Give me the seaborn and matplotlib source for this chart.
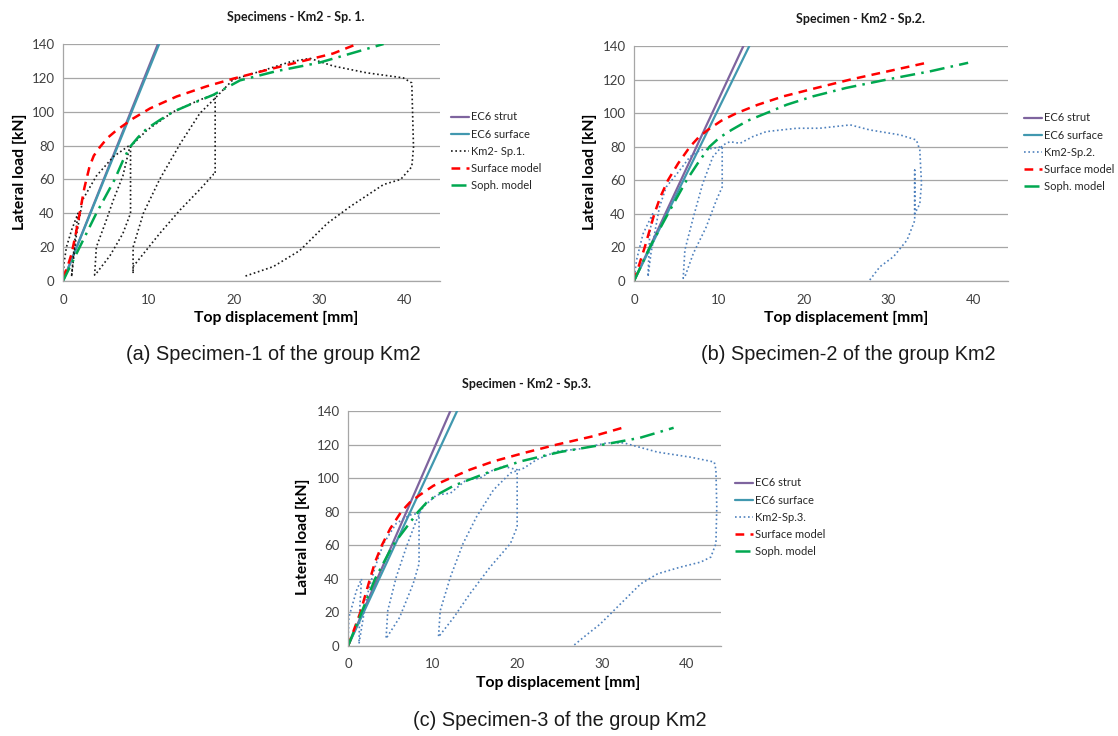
import numpy as np
import pandas as pd
import seaborn as sns
import matplotlib
matplotlib.use("Agg")
import matplotlib.pyplot as plt

sns.set_style("white")
plt.rcParams['font.family'] = ['Lato', 'DejaVu Sans']

W, H = 1118, 736

# ---------------- data ----------------
# Specimen 1
strut1_x = [0, 11.1]
strut1_y = [0, 140]
surf1_x = [0, 11.25]
surf1_y = [0, 140]
sm1_x = [0, 0.5, 1.0, 1.5, 1.95, 2.5, 3.1, 3.6, 4.3, 5.2, 6.25, 8.2, 10.2, 13.3, 16.8, 19.9, 23.8, 27.7, 31.6, 34.4]
sm1_y = [2, 8, 16, 28, 40, 55, 67.5, 74, 79, 84.5, 89, 96, 102, 109, 115, 119.5, 124.6, 129.5, 134.4, 140]
soph1_x = [0, 1.95, 3.9, 6.05, 7.0, 7.8, 8.8, 9.8, 11.3, 12.9, 15.2, 17.6, 20.7, 25.0, 30.0, 37.5]
soph1_y = [0, 20, 40, 60, 71, 79, 85, 90, 95, 100, 105, 110, 118.5, 124, 129, 140]
km1_x = [0, 0.1, 0.4, 1.0, 1.75, 1.3, 1.0,
         1.5, 2.3, 3.9, 5.9, 7.6, 7.9, 7.9, 7.0, 5.5, 3.9, 3.7,
         3.9, 5.0, 5.9, 7.0, 7.8, 9.8, 12.9, 16.0, 17.6, 17.8, 17.8, 17.6, 16.0, 13.7, 11.3, 8.2, 8.2,
         8.2, 9.4, 11.3, 13.7, 16.0, 17.6, 19.9, 23.8, 26.6, 28.9, 31.6, 35.5, 39.8, 40.8, 41.0,
         40.8, 39.5, 37.5, 33.6, 30.9, 27.7, 24.6, 21.1]
km1_y = [0, 10, 20, 30, 40, 20, 2.5,
         25, 48, 62, 73.5, 79.5, 80, 40, 28, 15, 4.5, 3.5,
         20, 35, 48, 62, 79, 89, 100, 107, 110, 110, 63, 63, 54, 42, 28, 8.5, 4.5,
         20, 40, 60, 81, 99, 107, 119, 125, 129.5, 131.5, 127, 123, 120, 117, 79,
         67.5, 60, 57, 44, 34, 18, 8.5, 2.5]

# Specimen 2
strut2_x = [0, 12.9]
strut2_y = [0, 140]
surf2_x = [0, 13.6]
surf2_y = [0, 140]
sm2_x = [0, 1.26, 2.4, 3.1, 4.0, 5.2, 6.6, 7.6, 8.7, 10.3, 12.1, 14.6, 17.6, 21.5, 25.5, 30.0, 34.5]
sm2_y = [0, 20, 40, 50, 60, 70, 80, 85.5, 90, 95.5, 100, 105, 110, 115, 120, 125, 130]
soph2_x = [0, 1.85, 4.0, 6.2, 7.5, 8.9, 10.1, 11.5, 13.4, 15.6, 18.0, 21.1, 25.0, 29.8, 35.0, 39.4]
soph2_y = [0, 20, 40, 60, 70, 80, 85.5, 90, 95.5, 100, 105, 110, 115, 120, 125, 130]
km2_x = [0, 0.3, 1.06, 2.0, 2.2, 1.85, 1.65,
         2.0, 3.0, 3.8, 5.4, 6.6, 7.8, 9.3, 10.3, 10.4, 10.4, 9.7, 8.5, 7.0, 6.0, 5.8,
         6.0, 7.0, 8.1, 9.3, 10.5, 11.3, 12.5, 14.0, 15.6, 19.2, 21.9, 25.5, 27.8, 31.4,
         33.3, 33.7, 33.9, 33.7, 33.1, 33.1, 33.1, 32.2, 30.6, 29.0, 27.8]
km2_y = [0, 12.5, 28, 38, 40, 28, 2.5,
         16.5, 44, 56, 66, 74, 78, 79, 80, 80, 56, 48, 32, 16.5, 2.5, 1.6,
         18.5, 38, 58, 74, 81, 83, 82, 86, 89, 91, 91, 93, 90, 87,
         84, 78, 58, 46, 40, 66, 36, 24.4, 14.5, 8.5, 0.6]

# Specimen 3
strut3_x = [0, 12.1]
strut3_y = [0, 140]
surf3_x = [0, 12.9]
surf3_y = [0, 140]
sm3_x = [0, 1.46, 2.6, 3.2, 4.0, 5.0, 6.3, 7.3, 8.5, 10.1, 12.1, 14.4, 17.2, 20.8, 24.7, 29.0, 32.8]
sm3_y = [0, 20, 40, 50, 60, 70, 80, 85.5, 90, 95.5, 100, 105, 110, 115, 120, 125, 130.5]
soph3_x = [0, 1.6, 3.2, 5.3, 6.8, 8.3, 9.3, 10.5, 12.5, 14.8, 17.4, 20.4, 25.0, 30.2, 34.5, 38.5]
soph3_y = [0, 20, 40, 60, 70, 80, 85.5, 90, 95.5, 100, 105, 110, 115.5, 120, 124, 130]
km3_x = [0, 0.1, 1.0, 1.6, 1.4, 1.3,
         2.2, 3.2, 4.2, 5.7, 7.3, 8.3, 8.4, 8.4, 7.7, 6.1, 4.5,
         4.7, 5.7, 6.9, 8.1, 8.9, 10.5, 12.1, 14.0, 15.6, 17.2, 18.4, 20.0, 20.0, 19.2, 16.8, 14.4, 12.5, 10.7,
         10.9, 12.1, 13.6, 15.2, 17.2, 19.2, 20.8, 22.3, 24.7, 27.5, 30.6, 32.6, 36.6, 40.5, 43.3, 43.5,
         43.6, 43.5, 42.9, 41.7, 39.3, 36.6, 34.6, 31.8, 29.8, 27.9, 26.7]
km3_y = [0, 17, 33, 40, 23, 1.4,
         29, 47, 61, 73, 78, 79, 79, 49, 37, 17, 4.4,
         21, 41, 59, 75, 83, 90, 91, 99, 100, 105, 107, 105, 71, 61, 47, 31, 17, 5.4,
         21, 41, 61, 77, 93, 103, 106, 111, 116, 117.5, 121, 121, 115.5, 112.5, 109.6, 105,
         83, 61, 53, 50, 47, 43, 37, 23, 13, 5.4, 0.4]

panels = [
    dict(title="Specimens - Km2 - Sp. 1.", km_label="Km2- Sp.1.", km_color="#1a1a1a",
         strut=(strut1_x, strut1_y), surf=(surf1_x, surf1_y), sm=(sm1_x, sm1_y),
         soph=(soph1_x, soph1_y), km=(km1_x, km1_y),
         box=(63, 440, 44, 281), title_xy=(296, 17), ylab_xy=(20, 172), xlab_xy=(276, 318),
         leg_xy=(447, 107), cap="(a) Specimen-1 of the group Km2", cap_xy=(273, 355)),
    dict(title="Specimen - Km2 - Sp.2.", km_label="Km2-Sp.2.", km_color="#4f81bd",
         strut=(strut2_x, strut2_y), surf=(surf2_x, surf2_y), sm=(sm2_x, sm2_y),
         soph=(soph2_x, soph2_y), km=(km2_x, km2_y),
         box=(634, 1008, 46, 281), title_xy=(860, 19), ylab_xy=(590, 172), xlab_xy=(846, 318),
         leg_xy=(1020, 108), cap="(b) Specimen-2 of the group Km2", cap_xy=(848, 355)),
    dict(title="Specimen - Km2 - Sp.3.", km_label="Km2-Sp.3.", km_color="#4f81bd",
         strut=(strut3_x, strut3_y), surf=(surf3_x, surf3_y), sm=(sm3_x, sm3_y),
         soph=(soph3_x, soph3_y), km=(km3_x, km3_y),
         box=(348, 721, 411, 646), title_xy=(527, 384), ylab_xy=(303, 537), xlab_xy=(558, 683),
         leg_xy=(731, 473), cap="(c) Specimen-3 of the group Km2", cap_xy=(560, 720)),
]

fig = plt.figure(figsize=(W / 100, H / 100), dpi=100)


def px(x, y):
    return x / W, 1 - y / H


for p in panels:
    l, r, t, b = p["box"]
    ax = fig.add_axes([l / W, 1 - b / H, (r - l) / W, (b - t) / H])

    sns.lineplot(x=p["strut"][0], y=p["strut"][1], ax=ax, color="#7e649e", lw=1.6,
                 sort=False, estimator=None, label="EC6 strut")
    sns.lineplot(x=p["surf"][0], y=p["surf"][1], ax=ax, color="#4198af", lw=1.6,
                 sort=False, estimator=None, label="EC6 surface")
    sns.lineplot(x=p["km"][0], y=p["km"][1], ax=ax, color=p["km_color"], lw=1.2,
                 linestyle=(0, (1, 1.6)), sort=False, estimator=None, label=p["km_label"])
    sns.lineplot(x=p["sm"][0], y=p["sm"][1], ax=ax, color="#ff0000", lw=1.8,
                 linestyle=(0, (3.5, 2.5)), sort=False, estimator=None, label="Surface model")
    sns.lineplot(x=p["soph"][0], y=p["soph"][1], ax=ax, color="#00a850", lw=1.8,
                 linestyle=(0, (6, 2.5, 1, 2.5)), sort=False, estimator=None, label="Soph. model")

    ax.set_xlim(0, 44.1)
    ax.set_ylim(0, 140)
    ax.set_xticks([0, 10, 20, 30, 40])
    ax.set_yticks(np.arange(0, 141, 20))
    ax.yaxis.grid(True, color="#a6a6a6", lw=0.9)
    ax.set_axisbelow(True)
    for s in ["top", "right"]:
        ax.spines[s].set_visible(False)
    for s in ["left", "bottom"]:
        ax.spines[s].set_color("#a6a6a6")
        ax.spines[s].set_linewidth(0.9)
    ax.tick_params(axis="x", length=4, color="#a6a6a6", labelsize=9.5, labelcolor="#404040", pad=5)
    ax.tick_params(axis="y", length=0, labelsize=9.5, labelcolor="#404040", pad=6)
    ax.set_xlabel("")
    ax.set_ylabel("")

    leg = ax.legend(loc="upper left", bbox_to_anchor=px(*p["leg_xy"]),
                    bbox_transform=fig.transFigure, frameon=False, fontsize=8,
                    handlelength=1.6, handletextpad=0.15, labelspacing=0.55,
                    borderaxespad=0)
    for t_ in leg.get_texts():
        t_.set_color("#262626")

    fig.text(*px(*p["title_xy"]), p["title"], ha="center", va="center",
             fontsize=9, fontweight="bold", color="#1a1a1a")
    fig.text(*px(*p["xlab_xy"]), "Top displacement [mm]", ha="center", va="center",
             fontsize=11.3, fontweight="bold", color="black")
    fig.text(*px(*p["ylab_xy"]), "Lateral load [kN]", ha="center", va="center",
             rotation=90, fontsize=11.3, fontweight="bold", color="black")
    fig.text(*px(*p["cap_xy"]), p["cap"], ha="center", va="center",
             fontsize=14.3, family=["Liberation Sans", "DejaVu Sans"], color="#1a1a1a")

fig.savefig("out.png", dpi=100)
